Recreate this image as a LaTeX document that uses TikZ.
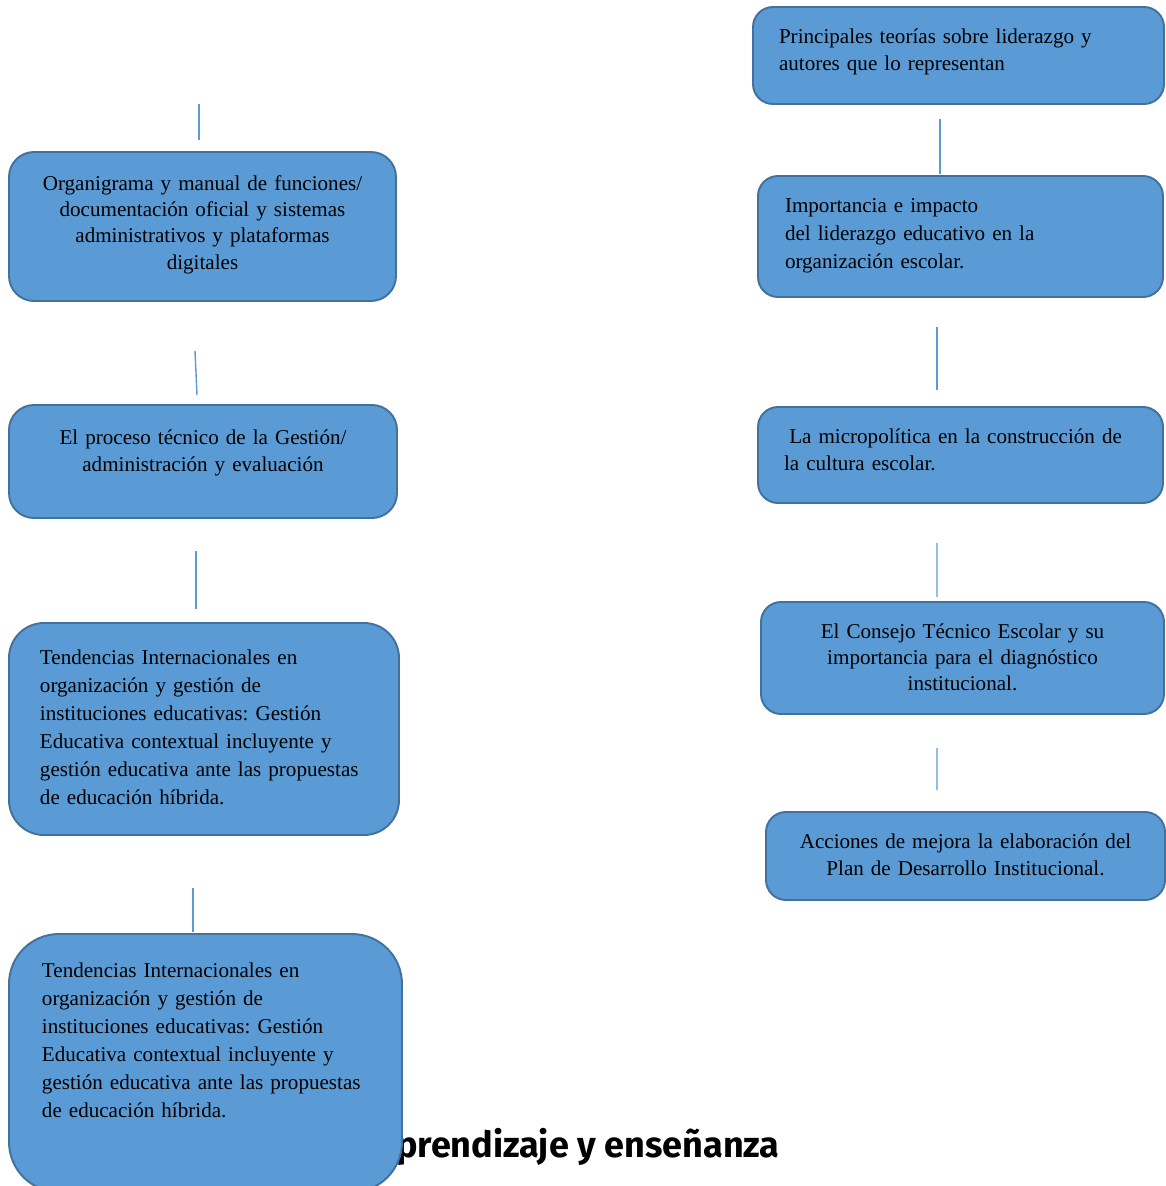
\documentclass[tikz,border=0pt]{standalone}
\usepackage{fontspec}
\setmainfont{Liberation Serif}
\newfontfamily\headfont{Fira Sans}
\usepackage{tikz}
\frenchspacing
\definecolor{boxblue}{RGB}{91,155,213}
\definecolor{boxline}{RGB}{65,113,156}
\tikzstyle{topic} = [rectangle, rounded corners=0.4cm, draw=boxline, fill=boxblue,
line width=1.1pt, inner ysep=0pt, text height=0.29cm, font=\fontsize{12}{15.5}\selectfont]
\tikzstyle{centred} = [topic, align=center, inner xsep=0.2cm]
\tikzstyle{flush} = [topic, align=left]
\tikzstyle{link} = [draw=boxblue, line width=0.8pt]

\begin{document}
\begin{tikzpicture}
      \useasboundingbox (0,0) rectangle (23.32,-23.72);

      % heading partly hidden behind the last box
      \node (head) [anchor=base east, inner sep=0pt, font=\headfont\bfseries\fontsize{20.5}{24}\selectfont]
      at (15.6,-23.14) {aprendizaje y enseñanza};

      % left column
      \node (org) [centred, rounded corners=0.5cm, minimum width=7.74cm, minimum height=2.98cm,
      text width=7.34cm, text depth=1.75cm, font=\fontsize{12}{15}\selectfont] at (4.05,-4.53)
      {Organigrama y manual de funciones/\\ documentación oficial y sistemas\\
        administrativos y plataformas\\ digitales};
      \node (proc) [centred, rounded corners=0.5cm, minimum width=7.76cm, minimum height=2.26cm,
      text width=7.36cm, text depth=0.99cm] at (4.06,-9.23)
      {El proceso técnico de la Gestión/\\ administración y evaluación};
      \node (tend1) [flush, rounded corners=0.7cm, minimum width=7.80cm, minimum height=4.24cm,
      inner xsep=0.62cm, text width=6.56cm, text depth=2.89cm,
      font=\fontsize{12}{16}\selectfont] at (4.08,-14.58)
      {Tendencias Internacionales en\\ organización y gestión de\\ instituciones educativas: Gestión\\
        Educativa contextual incluyente y\\ gestión educativa ante las propuestas\\ de educación híbrida.};
      \node (tend2) [flush, rounded corners=1cm, minimum width=7.86cm, minimum height=5.16cm,
      inner xsep=0.66cm, text width=6.54cm, text depth=3.73cm,
      font=\fontsize{12}{16}\selectfont] at (4.11,-21.26)
      {Tendencias Internacionales en\\ organización y gestión de\\ instituciones educativas: Gestión\\
        Educativa contextual incluyente y\\ gestión educativa ante las propuestas\\ de educación híbrida.};

      % right column
      \node (teor) [flush, minimum width=8.22cm, minimum height=1.94cm, inner xsep=0.52cm,
      text width=7.18cm, text depth=0.79cm] at (19.17,-1.11)
      {Principales teorías sobre liderazgo y\\ autores que lo representan};
      \node (impa) [flush, minimum width=8.10cm, minimum height=2.42cm, inner xsep=0.54cm,
      text width=7.02cm, text depth=1.27cm, font=\fontsize{12}{16}\selectfont] at (19.21,-4.73)
      {Importancia e impacto\\ del liderazgo educativo en la\\ organización escolar.};
      \node (micro) [flush, minimum width=8.10cm, minimum height=1.92cm, inner xsep=0.52cm,
      text width=7.06cm, text depth=0.77cm] at (19.21,-9.10)
      {\hspace*{0.25em}La micropolítica en la construcción de\\ la cultura escolar.};
      \node (cons) [centred, minimum width=8.06cm, minimum height=2.24cm,
      text width=7.66cm, text depth=1.09cm, font=\fontsize{12}{15}\selectfont] at (19.25,-13.16)
      {El Consejo Técnico Escolar y su\\ importancia para el diagnóstico\\ institucional.};
      \node (plan) [centred, minimum width=7.98cm, minimum height=1.76cm,
      text width=7.58cm, text depth=0.61cm] at (19.31,-17.12)
      {Acciones de mejora la elaboración del\\ Plan de Desarrollo Institucional.};

      \coordinate (top) at (3.98,-2.08);

      \draw [link] (top) -- ([xshift=-0.07cm, yshift=0.22cm]org.north);
      \draw [link] ([xshift=-0.15cm, yshift=-0.98cm]org.south) -- ([xshift=-0.12cm, yshift=0.18cm]proc.north);
      \draw [link] ([xshift=-0.14cm, yshift=-0.64cm]proc.south) -- ([xshift=-0.16cm, yshift=0.26cm]tend1.north);
      \draw [link] ([xshift=-0.22cm, yshift=-1.04cm]tend1.south) -- ([xshift=-0.25cm, yshift=0.02cm]tend2.north);

      \draw [link] ([xshift=-0.37cm, yshift=-0.28cm]teor.south) -- ([xshift=-0.41cm, yshift=0.02cm]impa.north);
      \draw [link] ([xshift=-0.47cm, yshift=-0.58cm]impa.south) -- ([xshift=-0.47cm, yshift=0.32cm]micro.north);
      \draw [link] ([xshift=-0.47cm, yshift=-0.78cm]micro.south) -- ([xshift=-0.51cm, yshift=0.08cm]cons.north);
      \draw [link] ([xshift=-0.51cm, yshift=-0.66cm]cons.south) -- ([xshift=-0.57cm, yshift=0.42cm]plan.north);
    \end{tikzpicture}
\end{document}
